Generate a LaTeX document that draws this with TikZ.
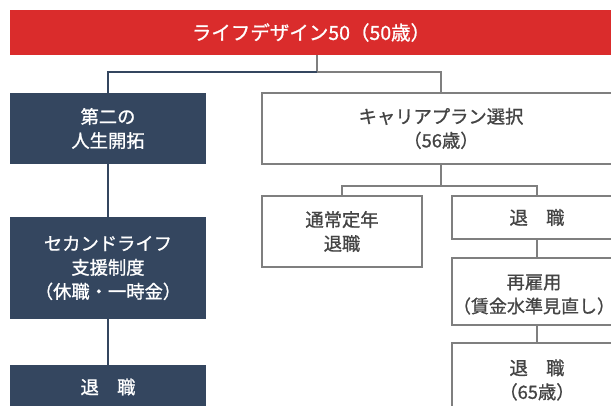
\documentclass[tikz,border=0pt]{standalone}
\usepackage{fontspec}
\setmainfont{Noto Sans CJK JP}[FakeBold=1]
\newfontfamily\boxfont[RawFeature=+halt, FakeBold=1]{Noto Sans CJK JP}
\newfontfamily\fullfont[FakeBold=1]{Noto Sans CJK JP}
\definecolor{barred}{HTML}{DA2C2C}
\definecolor{navy}{HTML}{34465F}
\definecolor{lgray}{HTML}{7F7F7F}
\definecolor{tgray}{HTML}{444444}
\begin{document}
\begin{tikzpicture}[x=1pt,y=-1pt,
  base/.style={inner sep=0pt, align=center, font=\boxfont\fontsize{18.3}{24}\selectfont},
  navybox/.style={base, fill=navy, text=white},
  graybox/.style={base, draw=lgray, line width=1.5pt, fill=white, text=tgray},
  navyline/.style={draw=navy, line width=2pt},
  grayline/.style={draw=lgray, line width=1.6pt}]
\useasboundingbox (0,0) rectangle (611,405);
\clip (0,0) rectangle (611,405);
\fill[white] (0,0) rectangle (611,405);
% nodes
\node[fill=barred, text=white, inner sep=0pt, minimum width=602pt, minimum height=45pt,
      font=\fontsize{19.5}{24}\selectfont] (red) at (311,32.5) {ライフデザイン50（50歳）};
\node[navybox, minimum width=196pt, minimum height=71pt] (nav1) at (108,128.5) {第二の\\人生開拓};
\node[navybox, minimum width=196pt, minimum height=102pt] (nav2) at (108,268) {セカンドライフ\\支援制度\\（休職{\fullfont ・}一時金）};
\node[navybox, minimum width=196pt, minimum height=44pt] (nav3) at (108,387) {退　職};
\node[graybox, minimum width=358pt, minimum height=71pt] (car) at (441,128.5) {キャリアプラン選択\\（56歳）};
\node[graybox, minimum width=160pt, minimum height=71pt] (teinen) at (342,231.5) {通常定年\\退職};
\node[graybox, minimum width=170pt, minimum height=43pt] (tai1) at (537,217.5) {退　職};
\node[graybox, minimum width=170pt, minimum height=67pt] (sai) at (537,291.5) {};
\node[base, text=tgray] (saitext) at (534,294.5) {再雇用\\{\fontsize{18}{24}\selectfont（賃金水準見直し）}};
\node[graybox, minimum width=170pt, minimum height=74pt] (tai2) at (537,380) {退　職\\（65歳）};
% connectors
\coordinate (j1) at (317,72);
\coordinate (j2) at (441,186);
\draw[grayline] (red.south -| j1) -- (j1) -| (car.north);
\draw[navyline] (j1) -| (nav1.north);
\draw[navyline] (nav1.south) -- (nav2.north);
\draw[navyline] (nav2.south) -- (nav3.north);
\draw[grayline] (car.south) -- (j2) -| (teinen.north);
\draw[grayline] (j2) -| (tai1.north);
\draw[grayline] (tai1.south) -- (sai.north);
\draw[grayline] (sai.south) -- (tai2.north);
\end{tikzpicture}
\end{document}
